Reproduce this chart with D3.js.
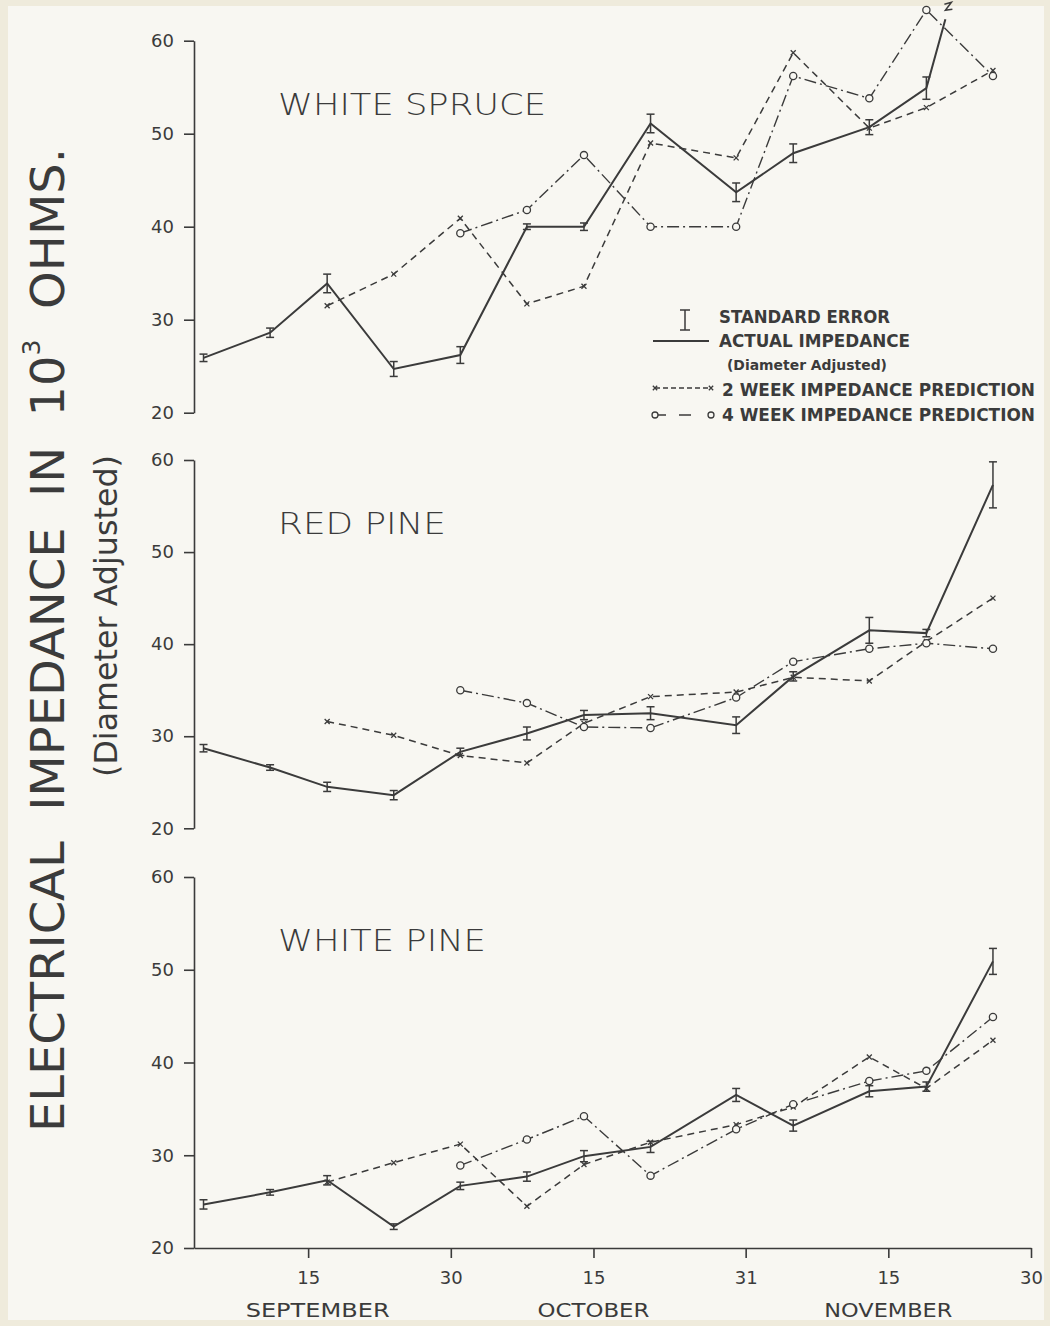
<!DOCTYPE html>
<html>
<head>
<meta charset="utf-8">
<script src="https://cdn.jsdelivr.net/npm/d3@7"></script>
<style>
  body { margin: 0; background: #efebdc; }
  svg { display: block; }
</style>
</head>
<body>
<svg id="plot"></svg>
<script>
// Sampling dates (month-day), one season
const sampleDates = ["09-04", "09-11", "09-17", "09-24", "10-01", "10-08", "10-14",
                     "10-21", "10-30", "11-05", "11-13", "11-19", "11-26"];
const xTickDates = ["09-15", "09-30", "10-15", "10-31", "11-15", "11-30"];
const monthNames = ["SEPTEMBER", "OCTOBER", "NOVEMBER"];
const monthCenters = ["09-16", "10-15", "11-15"];
const yTicks = [20, 30, 40, 50, 60];
const speciesNames = ["WHITE SPRUCE", "RED PINE", "WHITE PINE"];

// White spruce
const spruceActual = [25.9, 28.6, 33.9, 24.7, 26.2, 40.0, 40.0, 51.1, 43.7, 47.9, 50.7, 54.9, null];
const spruceErr    = [0.4, 0.5, 1.0, 0.8, 0.9, 0.3, 0.4, 1.0, 1.0, 1.0, 0.8, 1.2, null];
const spruce2wk    = [null, null, 31.5, 34.9, 40.9, 31.7, 33.6, 49.0, 47.4, 58.7, 50.6, 52.8, 56.8];
const spruce4wk    = [null, null, null, null, 39.3, 41.8, 47.7, 40.0, 40.0, 56.2, 53.8, 63.3, 56.2];
const spruceOffScale = ["11-21", 62.3]; // actual line runs off the scale here (break mark)

// Red pine
const redActual = [28.7, 26.6, 24.5, 23.6, 28.3, 30.3, 32.3, 32.5, 31.2, 36.5, 41.5, 41.2, 57.3];
const redErr    = [0.4, 0.3, 0.5, 0.5, 0.4, 0.7, 0.5, 0.7, 0.9, 0.5, 1.4, 0.4, 2.5];
const red2wk    = [null, null, 31.6, 30.1, 27.9, 27.1, 31.4, 34.3, 34.8, 36.4, 36.0, 40.3, 45.0];
const red4wk    = [null, null, null, null, 35.0, 33.6, 31.0, 30.9, 34.2, 38.1, 39.5, 40.1, 39.5];

// White pine
const wpineActual = [24.7, 26.0, 27.3, 22.3, 26.7, 27.7, 29.9, 30.9, 36.5, 33.2, 36.9, 37.4, 50.9];
const wpineErr    = [0.5, 0.3, 0.5, 0.3, 0.4, 0.5, 0.6, 0.6, 0.7, 0.6, 0.6, 0.5, 1.4];
const wpine2wk    = [null, null, 27.1, 29.2, 31.2, 24.5, 29.0, 31.4, 33.3, 35.2, 40.6, 37.2, 42.4];
const wpine4wk    = [null, null, null, null, 28.9, 31.7, 34.2, 27.8, 32.8, 35.5, 38.0, 39.1, 44.9];

const legendLabels = ["STANDARD ERROR", "ACTUAL IMPEDANCE", "(Diameter Adjusted)",
                      "2 WEEK IMPEDANCE PREDICTION", "4 WEEK IMPEDANCE PREDICTION"];

let width = 1050;
let height = 1326;
const ink = "#3b3b3b";
const paper = "#f8f7f2";
const font = "'DejaVu Sans', sans-serif";

const parse = d3.timeParse("%Y-%m-%d");
const day = s => parse("1976-" + s);

let svg = d3.select('#plot')
    .attr('width', width)
    .attr('height', height);

svg.append('rect').attr('width', width).attr('height', height).attr('fill', '#efebdc');
svg.append('rect').attr('x', 8).attr('y', 6).attr('width', 1036).attr('height', 1314).attr('fill', paper);

let xScale = d3.scaleTime()
    .domain([day("09-03"), day("11-30")])
    .range([194, 1031]);

// vertical extent of each panel [bottom (20), top (60)]
const panelRanges = [[412.7, 40.7], [828.3, 460], [1248, 877]];
const titleWidths = [268, 168, 208];

const panels = [
    { name: speciesNames[0], actual: spruceActual, err: spruceErr, wk2: spruce2wk, wk4: spruce4wk, extra: spruceOffScale },
    { name: speciesNames[1], actual: redActual, err: redErr, wk2: red2wk, wk4: red4wk },
    { name: speciesNames[2], actual: wpineActual, err: wpineErr, wk2: wpine2wk, wk4: wpine4wk }
];

const styleAxis = g => {
    g.selectAll('path, line').attr('stroke', ink).attr('stroke-width', 1.6);
    g.selectAll('text').attr('fill', ink).style('font-family', font).style('font-size', '18px');
};

panels.forEach(function (p, i) {
    let yScale = d3.scaleLinear().domain([20, 60]).range(panelRanges[i]);
    let g = svg.append('g');

    g.append('g')
        .attr('transform', 'translate(194,0)')
        .call(d3.axisLeft(yScale).tickValues(yTicks).tickSize(10).tickSizeOuter(0).tickPadding(10))
        .call(styleAxis);

    g.append('text')
        .attr('x', 278)
        .attr('y', yScale(60) + 74)
        .attr('textLength', titleWidths[i])
        .attr('lengthAdjust', 'spacingAndGlyphs')
        .style('font-family', font)
        .style('font-size', '31px')
        .style('font-weight', 200)
        .attr('fill', ink)
        .text(p.name);

    const pts = arr => sampleDates.map((d, j) => ({ d: day(d), v: arr[j], e: p.err[j] }));
    let line = d3.line().defined(d => d.v != null).x(d => xScale(d.d)).y(d => yScale(d.v));

    let actualPts = pts(p.actual).filter(d => d.v != null);
    if (p.extra) actualPts.push({ d: day(p.extra[0]), v: p.extra[1], e: null, brk: true });

    // 2 week prediction
    g.append('path')
        .attr('d', line(pts(p.wk2)))
        .attr('fill', 'none').attr('stroke', ink).attr('stroke-width', 1.5)
        .attr('stroke-dasharray', '7,5');
    g.selectAll('.m2').data(pts(p.wk2).filter(d => d.v != null)).enter()
        .append('path')
        .attr('transform', d => `translate(${xScale(d.d)},${yScale(d.v)})`)
        .attr('d', d3.symbol(d3.symbolTimes, 18))
        .attr('fill', 'none').attr('stroke', ink).attr('stroke-width', 1.3);

    // 4 week prediction
    g.append('path')
        .attr('d', line(pts(p.wk4)))
        .attr('fill', 'none').attr('stroke', ink).attr('stroke-width', 1.4)
        .attr('stroke-dasharray', '12,4,2,4');

    // actual
    g.append('path')
        .attr('d', line(actualPts))
        .attr('fill', 'none').attr('stroke', ink).attr('stroke-width', 2);

    g.selectAll('.o4').data(pts(p.wk4).filter(d => d.v != null)).enter()
        .append('circle')
        .attr('cx', d => xScale(d.d)).attr('cy', d => yScale(d.v)).attr('r', 3.6)
        .attr('fill', paper).attr('stroke', ink).attr('stroke-width', 1.3);

    // standard error bars
    let eb = g.selectAll('.eb').data(actualPts.filter(d => d.e != null)).enter().append('g')
        .attr('stroke', ink).attr('stroke-width', 1.5);
    eb.append('line')
        .attr('x1', d => xScale(d.d)).attr('x2', d => xScale(d.d))
        .attr('y1', d => yScale(d.v - d.e)).attr('y2', d => yScale(d.v + d.e));
    eb.append('line')
        .attr('x1', d => xScale(d.d) - 4).attr('x2', d => xScale(d.d) + 4)
        .attr('y1', d => yScale(d.v - d.e)).attr('y2', d => yScale(d.v - d.e));
    eb.append('line')
        .attr('x1', d => xScale(d.d) - 4).attr('x2', d => xScale(d.d) + 4)
        .attr('y1', d => yScale(d.v + d.e)).attr('y2', d => yScale(d.v + d.e));

    // break mark where the actual line leaves the scale
    actualPts.filter(d => d.brk).forEach(d => {
        let bx = xScale(d.d), by = yScale(d.v);
        g.append('path')
            .attr('d', `M${bx - 1},${by - 15} L${bx + 6},${by - 17} L${bx},${by - 9} L${bx + 7},${by - 10}`)
            .attr('fill', 'none').attr('stroke', ink).attr('stroke-width', 1.5);
    });

    if (i === 2) {
        g.append('g')
            .attr('transform', `translate(0,${yScale(20)})`)
            .call(d3.axisBottom(xScale).tickValues(xTickDates.map(day))
                .tickFormat(d3.timeFormat('%-d')).tickSize(10).tickSizeOuter(0).tickPadding(13))
            .call(styleAxis);
    }
});

// month labels
svg.selectAll('.month').data(monthNames).enter().append('text')
    .attr('x', (d, i) => xScale(day(monthCenters[i])))
    .attr('y', 1317)
    .attr('text-anchor', 'middle')
    .attr('textLength', d => d.length * 16)
    .attr('lengthAdjust', 'spacingAndGlyphs')
    .style('font-family', font).style('font-size', '19px')
    .attr('fill', ink)
    .text(d => d);

// y axis title, rotated
let yTitle = svg.append('text')
    .attr('transform', 'translate(64,640) rotate(-90)')
    .attr('text-anchor', 'middle')
    .attr('textLength', 984)
    .attr('lengthAdjust', 'spacingAndGlyphs')
    .style('font-family', font).style('font-size', '46px')
    .attr('fill', ink)
    .attr('xml:space', 'preserve');
yTitle.append('tspan').text('ELECTRICAL  IMPEDANCE  IN  10');
yTitle.append('tspan').attr('dy', -24).style('font-size', '24px').text('3');
yTitle.append('tspan').attr('dy', 24).text('  OHMS.');

svg.append('text')
    .attr('transform', 'translate(117,616) rotate(-90)')
    .attr('text-anchor', 'middle')
    .attr('textLength', 322)
    .attr('lengthAdjust', 'spacingAndGlyphs')
    .style('font-family', font).style('font-size', '32px')
    .attr('fill', ink)
    .text('(Diameter Adjusted)');

// legend
let legend = svg.append('g').attr('class', 'legend');
const legendText = [[719, 323, 171, 17], [719, 347, 191, 17], [727, 370, 160, 14], [722, 396, 313, 17], [722, 421, 313, 17]];
legend.selectAll('text').data(legendLabels).enter().append('text')
    .attr('x', (d, i) => legendText[i][0])
    .attr('y', (d, i) => legendText[i][1])
    .attr('textLength', (d, i) => legendText[i][2])
    .attr('lengthAdjust', 'spacingAndGlyphs')
    .style('font-family', font)
    .style('font-size', (d, i) => legendText[i][3] + 'px')
    .style('font-weight', 'bold')
    .attr('fill', ink)
    .text(d => d);

legend.append('path')
    .attr('d', 'M685,310 V330 M680,310 H690 M680,330 H690')
    .attr('stroke', ink).attr('stroke-width', 1.5);
legend.append('line')
    .attr('x1', 653).attr('x2', 709).attr('y1', 341).attr('y2', 341)
    .attr('stroke', ink).attr('stroke-width', 2);
legend.append('line')
    .attr('x1', 655).attr('x2', 711).attr('y1', 388).attr('y2', 388)
    .attr('stroke', ink).attr('stroke-width', 1.5).attr('stroke-dasharray', '5,3');
legend.selectAll('.lx').data([655, 711]).enter().append('path')
    .attr('transform', d => `translate(${d},388)`)
    .attr('d', d3.symbol(d3.symbolTimes, 14))
    .attr('fill', 'none').attr('stroke', ink).attr('stroke-width', 1.3);
legend.append('line')
    .attr('x1', 658).attr('x2', 708).attr('y1', 415).attr('y2', 415)
    .attr('stroke', ink).attr('stroke-width', 1.5).attr('stroke-dasharray', '8,13,12,20');
legend.selectAll('.lo').data([655, 711]).enter().append('circle')
    .attr('cx', d => d).attr('cy', 415).attr('r', 3)
    .attr('fill', paper).attr('stroke', ink).attr('stroke-width', 1.3);
</script>
</body>
</html>
